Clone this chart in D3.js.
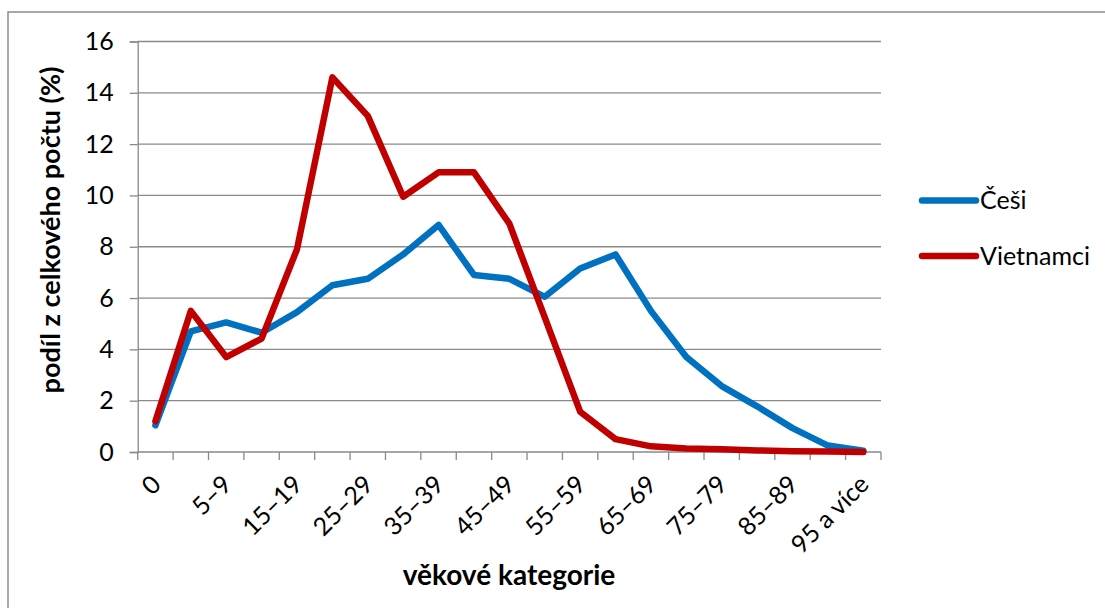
<!DOCTYPE html>
<html>
<head>
<meta charset="utf-8">
<script src="https://cdn.jsdelivr.net/npm/d3@7"></script>
<style>
  body { margin: 0; background: #fff; }
  svg { display: block; font-family: Lato, "Open Sans", sans-serif; }
</style>
</head>
<body>
<div class="chart"></div>
<script>
// age categories (x axis)
var categories = ["0", "1–4", "5–9", "10–14", "15–19", "20–24", "25–29", "30–34", "35–39", "40–44",
  "45–49", "50–54", "55–59", "60–64", "65–69", "70–74", "75–79", "80–84", "85–89", "90–94", "95 a více"];
// share of total count (%)
var cesi = [1.04, 4.7, 5.05, 4.65, 5.45, 6.5, 6.75, 7.7, 8.85, 6.9, 6.75, 6.05, 7.15, 7.7, 5.5, 3.7, 2.57, 1.78, 0.93, 0.25, 0.05];
var vietnamci = [1.2, 5.5, 3.7, 4.42, 7.9, 14.6, 13.1, 9.95, 10.9, 10.9, 8.9, 5.25, 1.57, 0.5, 0.22, 0.14, 0.11, 0.06, 0.03, 0.02, 0.0];
var seriesNames = ["Češi", "Vietnamci"];
var seriesColors = ["#0070C0", "#C00000"];
var yTicks = [0, 2, 4, 6, 8, 10, 12, 14, 16];

var width = 1105, height = 608;
var svg = d3.select(".chart").append("svg")
    .attr("width", width)
    .attr("height", height);

// chart border
svg.append("rect")
    .attr("x", 8).attr("y", 12)
    .attr("width", width).attr("height", height)
    .attr("fill", "none")
    .attr("stroke", "#8c8c8c")
    .attr("stroke-width", 1.5);

var x = d3.scaleBand().domain(categories).range([137.7, 881]);
var y = d3.scaleLinear().domain([0, 16]).range([452, 41.5]);
var gridColor = "#8a8a8a";

/* ------- GRID -------*/
svg.append("g").attr("class", "grid")
    .selectAll("line")
    .data(yTicks.filter(function (d) { return d > 0; }))
    .enter().append("line")
    .attr("x1", x.range()[0]).attr("x2", x.range()[1])
    .attr("y1", function (d) { return y(d); })
    .attr("y2", function (d) { return y(d); })
    .attr("stroke", gridColor)
    .attr("stroke-width", 1.3);

/* ------- Y AXIS -------*/
var yAxis = svg.append("g")
    .attr("transform", "translate(" + x.range()[0] + ",0)")
    .call(d3.axisLeft(y).tickValues(yTicks).tickSize(8).tickPadding(16).tickFormat(d3.format("d")));
yAxis.select(".domain").attr("stroke", gridColor).attr("stroke-width", 1.3);
yAxis.selectAll(".tick line").attr("stroke", gridColor).attr("stroke-width", 1.3);
yAxis.selectAll(".tick text")
    .attr("fill", "#000")
    .style("font-size", "25px")
    .style("font-family", "Lato, sans-serif");

/* ------- X AXIS -------*/
var xAxis = svg.append("g").attr("class", "x-axis");
xAxis.append("line")
    .attr("x1", x.range()[0]).attr("x2", x.range()[1])
    .attr("y1", y(0)).attr("y2", y(0))
    .attr("stroke", gridColor).attr("stroke-width", 1.3);
var boundaries = categories.map(function (c) { return x(c); }).concat([x.range()[1]]);
xAxis.selectAll("line.tick")
    .data(boundaries)
    .enter().append("line")
    .attr("class", "tick")
    .attr("x1", function (d) { return d; }).attr("x2", function (d) { return d; })
    .attr("y1", y(0)).attr("y2", y(0) + 8)
    .attr("stroke", gridColor).attr("stroke-width", 1.3);
xAxis.selectAll("text")
    .data(categories.filter(function (c, i) { return i % 2 === 0; }))
    .enter().append("text")
    .attr("transform", function (d) {
        return "translate(" + (x(d) + x.bandwidth() / 2 + 7) + "," + 486 + ") rotate(-45)";
    })
    .attr("text-anchor", "end")
    .style("font-size", "25px")
    .text(function (d) { return d; });

/* ------- AXIS TITLES -------*/
svg.append("text")
    .attr("x", 509).attr("y", 585)
    .attr("text-anchor", "middle")
    .style("font-size", "28px").style("font-weight", "bold")
    .text("věkové kategorie");
svg.append("text")
    .attr("transform", "translate(60,230) rotate(-90)")
    .attr("text-anchor", "middle")
    .style("font-size", "27px").style("font-weight", "bold")
    .text("podíl z celkového počtu (%)");

/* ------- LINES -------*/
var line = d3.line()
    .x(function (d, i) { return x(categories[i]) + x.bandwidth() / 2; })
    .y(function (d) { return y(d); });
[cesi, vietnamci].forEach(function (values, i) {
    svg.append("path")
        .datum(values)
        .attr("d", line)
        .attr("fill", "none")
        .attr("stroke", seriesColors[i])
        .attr("stroke-width", 6.5)
        .attr("stroke-linejoin", "round")
        .attr("stroke-linecap", "round");
});

/* ------- LEGEND -------*/
var legend = svg.append("g").selectAll("g")
    .data(seriesNames)
    .enter().append("g")
    .attr("transform", function (d, i) { return "translate(920," + (200.5 + i * 55.5) + ")"; });
legend.append("line")
    .attr("x1", 2).attr("x2", 56)
    .attr("stroke", function (d, i) { return seriesColors[i]; })
    .attr("stroke-width", 6.5)
    .attr("stroke-linecap", "round");
legend.append("text")
    .attr("x", 60).attr("y", 8.5)
    .style("font-size", "25px")
    .text(function (d) { return d; });
</script>
</body>
</html>
